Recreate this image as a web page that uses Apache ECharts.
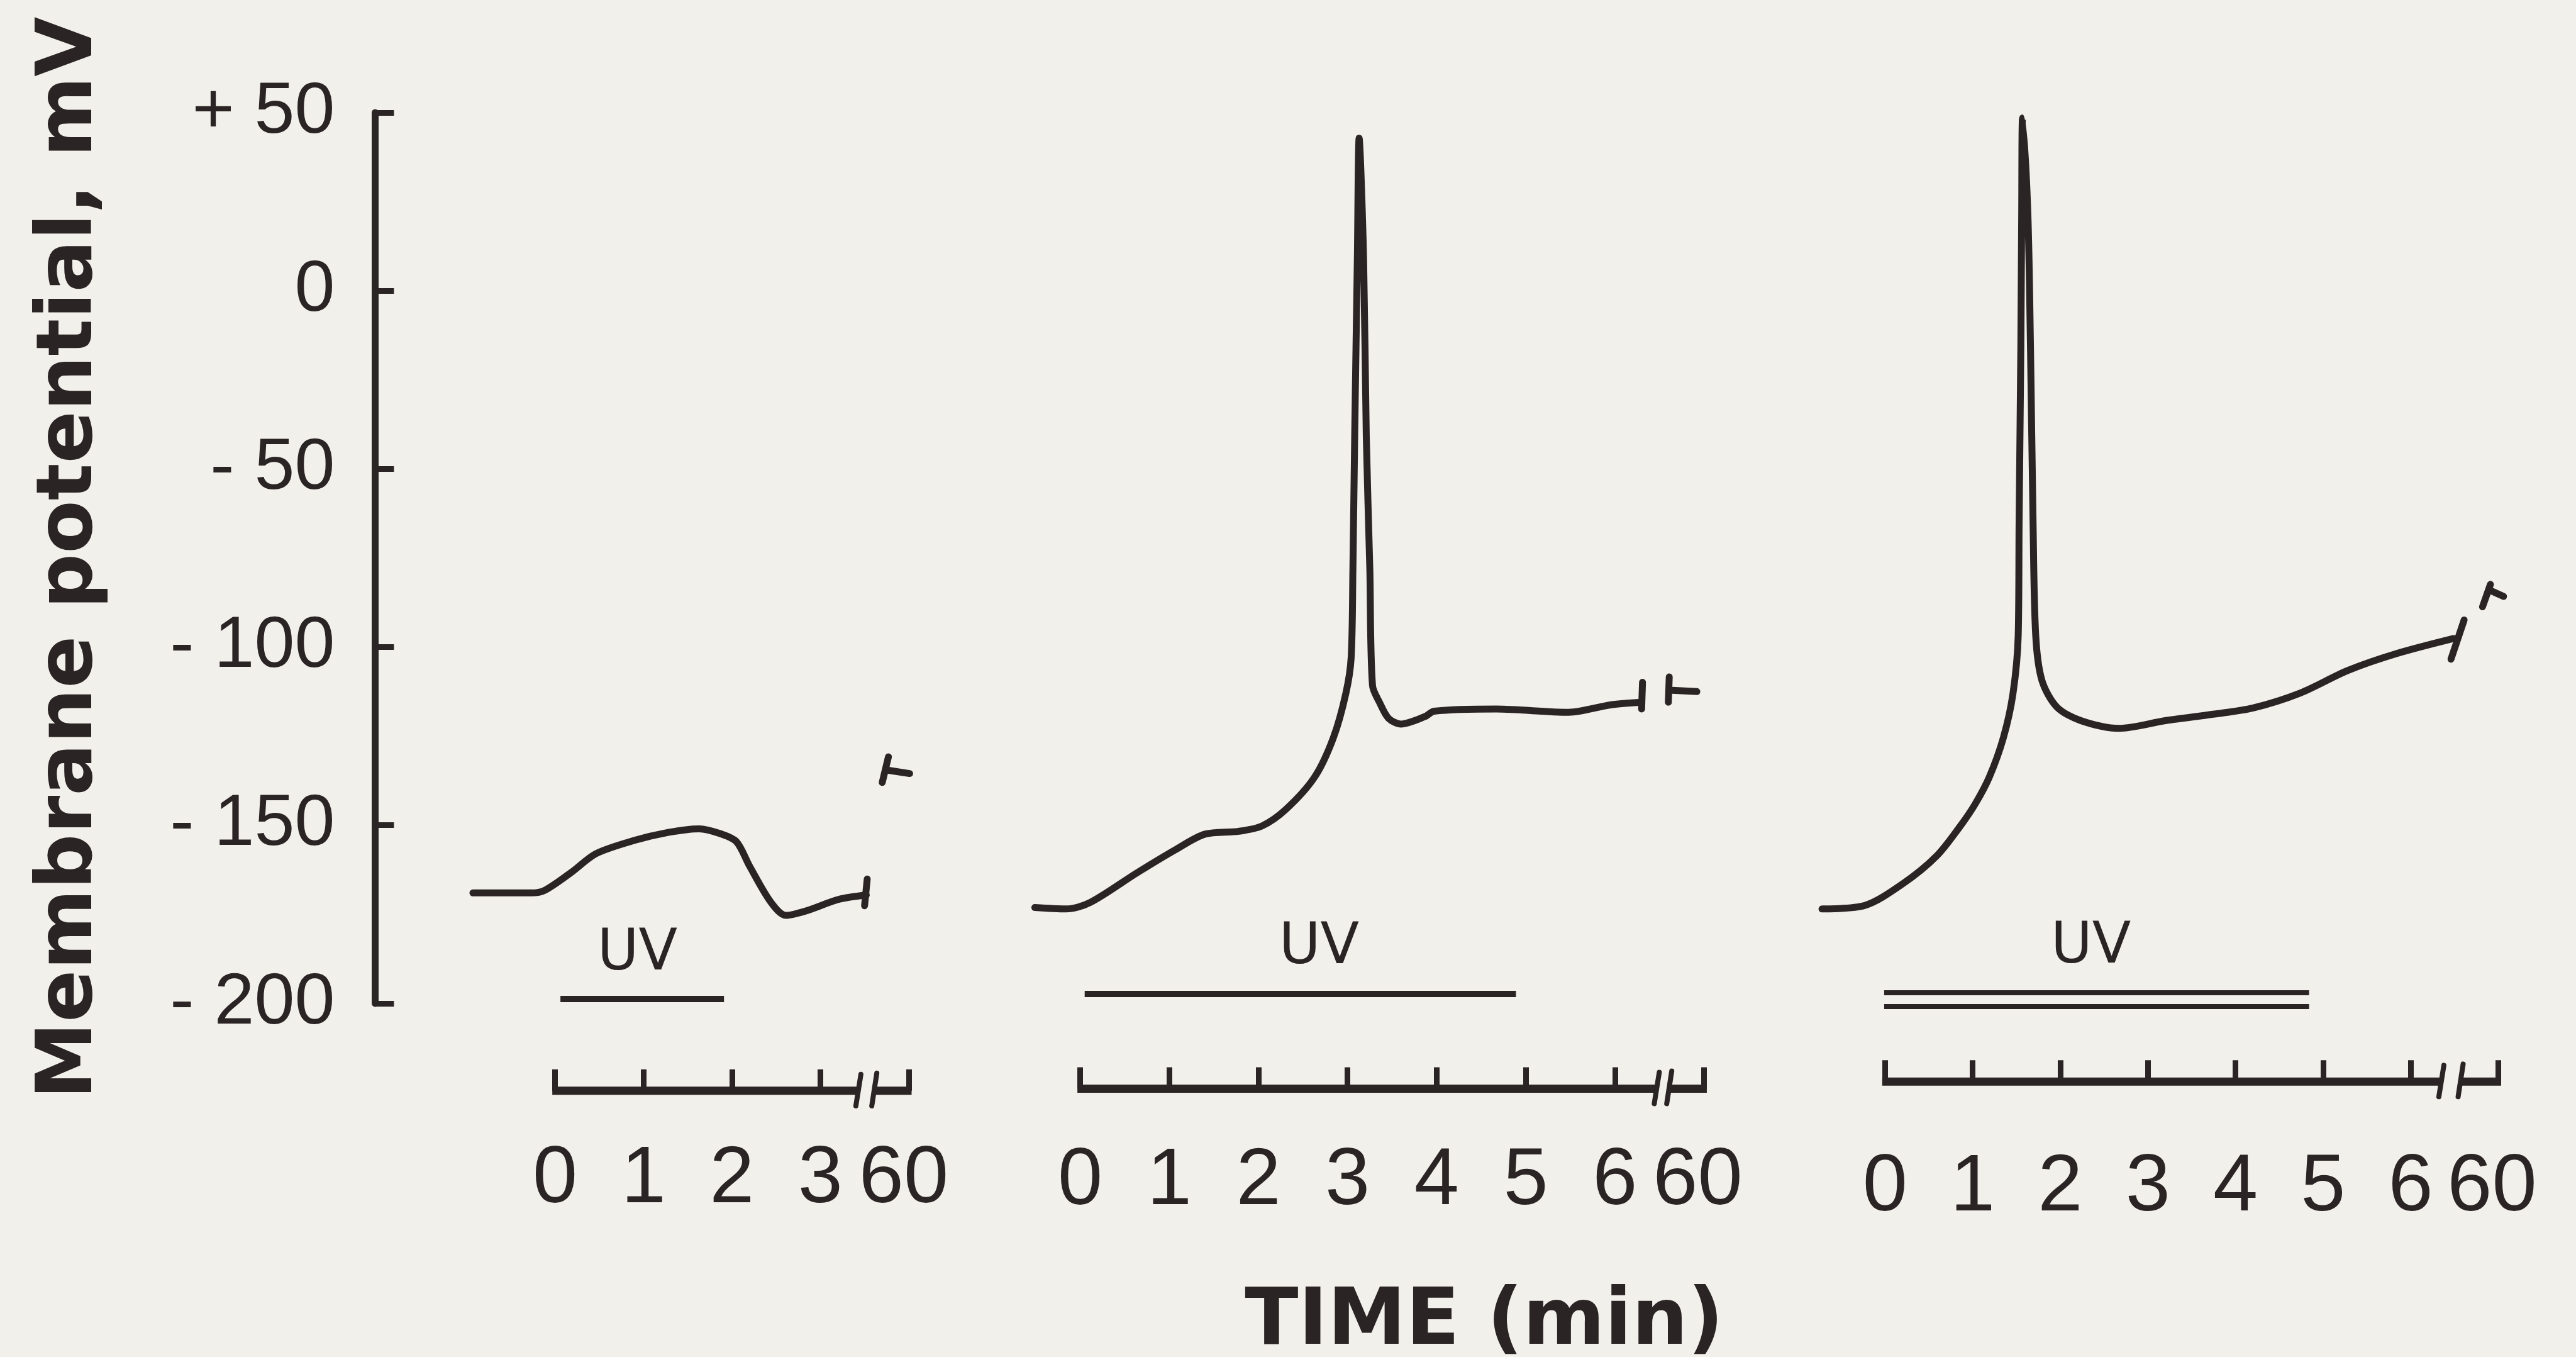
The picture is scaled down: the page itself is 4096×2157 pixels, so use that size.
<!DOCTYPE html>
<html>
<head>
<meta charset="utf-8">
<script src="https://cdn.jsdelivr.net/npm/echarts@6/dist/echarts.min.js"></script>
<style>
  html, body { margin: 0; padding: 0; background: #f2f0eb; }
  #chart { width: 4096px; height: 2157px; }
</style>
</head>
<body>
<div id="chart"></div>
<script>
// ---- Data: membrane potential (mV) vs time (min); "60" is the reading after the axis break ----
const yTickValues = [50, 0, -50, -100, -150, -200];
const yTickLabels = ['+ 50', '0', '- 50', '- 100', '- 150', '- 200'];

const timeLabels1 = ['0', '1', '2', '3', '60'];
const timeLabels2 = ['0', '1', '2', '3', '4', '5', '6', '60'];
const timeLabels3 = ['0', '1', '2', '3', '4', '5', '6', '60'];

// recorded traces, [time, mV]
const trace1 = [[-0.93, -169.0], [-0.27, -169.0], [-0.12, -168.3], [0.19, -163.1], [0.46, -158.0],
  [0.89, -154.3], [1.28, -152.0], [1.63, -151.0], [1.86, -152.3], [2.05, -154.6], [2.20, -161.5],
  [2.44, -171.6], [2.61, -175.3], [2.83, -174.1], [3.21, -170.8], [3.52, -169.6]];
const trace2 = [[-0.51, -173.1], [-0.16, -173.5], [0.11, -171.7], [0.64, -163.3], [1.08, -156.7],
  [1.40, -152.5], [1.78, -151.7], [2.04, -150.2], [2.31, -145.5], [2.63, -136.5], [2.84, -125.5],
  [2.98, -113.1], [3.04, -103.1], [3.06, -78.2], [3.08, -40.7], [3.11, 9.1], [3.13, 42.8],
  [3.18, 9.1], [3.21, -40.7], [3.25, -78.2], [3.28, -110.8], [3.36, -115.6], [3.46, -120.0],
  [3.60, -121.6], [3.87, -119.5], [3.97, -118.0], [4.67, -117.4], [5.48, -118.3], [5.96, -116.2],
  [6.30, -115.5]];
const trace3 = [[-0.72, -173.5], [-0.23, -172.5], [0.21, -166.3], [0.59, -158.6], [0.86, -150.2],
  [1.03, -144.0], [1.19, -136.5], [1.35, -125.5], [1.46, -113.1], [1.52, -96.8], [1.53, -65.7],
  [1.55, -15.7], [1.56, 21.6], [1.57, 48.5], [1.63, 21.6], [1.66, -15.7], [1.69, -65.7],
  [1.72, -96.8], [1.79, -109.3], [1.96, -116.8], [2.23, -120.6], [2.67, -122.8], [3.21, -120.6],
  [3.76, -118.8], [4.20, -117.1], [4.74, -112.9], [5.28, -106.6], [5.83, -101.9], [6.49, -97.6]];

// end-of-record bar and the 60 min reading, as [time, mV] segments
const endMarks1 = [[[3.53, -165.1], [3.50, -172.6]], [[3.77, -130.8], [3.70, -138.0]], [[3.75, -134.5], [4.01, -135.5]]];
const endMarks2 = [[[6.31, -109.9], [6.30, -117.4]], [[6.61, -108.4], [6.60, -115.5]], [[6.61, -112.1], [6.92, -112.5]]];
const endMarks3 = [[[6.61, -92.4], [6.46, -103.4]], [[6.91, -82.4], [6.82, -88.7]], [[6.90, -84.0], [7.06, -85.8]]];

// UV irradiation periods (time span at a mV level); the third run has a double bar
const uvBars1 = [[[0.06, -198.8], [1.91, -198.8]]];
const uvBars2 = [[[0.05, -197.4], [4.89, -197.4]]];
const uvBars3 = [[[-0.01, -197.0], [4.84, -197.0]], [[-0.01, -200.8], [4.84, -200.8]]];
const uvText1 = [0.93, -186.3];
const uvText2 = [2.68, -184.5];
const uvText3 = [2.35, -184.4];

// where each time axis is broken (two slashes)
const axisBreak1 = [3.43, 3.61];
const axisBreak2 = [6.47, 6.61];
const axisBreak3 = [6.35, 6.57];

// ---- Layout and styling ----
const S = 0.852;
const INK = '#2b2424';
const BG = '#f2f0eb';
const Y_MIN = -200, Y_MAX = 50;
const T_MIN = -1;                       // room for the pre-irradiation baseline
const PLOT_TOP = 210 * S, PLOT_BOTTOM = 1872 * S;
const Y_AXIS_X = 700 * S;
const NUM_FONT = "'Liberation Sans', Arial, sans-serif";
const NUM_SIZE = 128;

const panels = [
  { left: 1036, step: 165.0, max: 4, base: 2035, margin: 78, shift60: 16, labels: timeLabels1, trace: trace1, marks: endMarks1, uv: uvBars1, uvW: 10, uvText: uvText1, brk: axisBreak1 },
  { left: 2016, step: 166.3, max: 7, base: 2031, margin: 84, shift60: 20, labels: timeLabels2, trace: trace2, marks: endMarks2, uv: uvBars2, uvW: 10, uvText: uvText2, brk: axisBreak2 },
  { left: 3518, step: 163.5, max: 7, base: 2018, margin: 105, shift60: 20, labels: timeLabels3, trace: trace3, marks: endMarks3, uv: uvBars3, uvW: 8, uvText: uvText3, brk: axisBreak3 }
];

const grid = [], xAxis = [], yAxis = [], series = [];

panels.forEach((p, i) => {
  const offsetPx = (p.base - 1872) * S;
  const tickValues = p.labels.map((_, k) => k);
  const gridLeft = (p.left + T_MIN * p.step) * S;
  grid.push({
    left: gridLeft,
    width: p.step * (p.max - T_MIN) * S,
    top: PLOT_TOP,
    height: PLOT_BOTTOM - PLOT_TOP,
    containLabel: false
  });
  xAxis.push({
    gridIndex: i,
    type: 'value',
    min: T_MIN,
    max: p.max,
    position: 'bottom',
    offset: offsetPx,
    axisLine: { show: false, onZero: false },
    axisTick: { show: true, inside: true, length: 34, customValues: tickValues, lineStyle: { color: INK, width: 9 } },
    splitLine: { show: false },
    axisLabel: {
      show: true,
      customValues: tickValues,
      showMinLabel: true,
      showMaxLabel: true,
      hideOverlap: false,
      margin: p.margin,
      color: INK,
      fontFamily: NUM_FONT,
      fontSize: NUM_SIZE,
      formatter: v => {
        const t = p.labels[Math.round(v)];
        return Math.round(v) === p.max ? '{far|' + t + '}' : t;
      },
      rich: {
        far: { color: INK, fontFamily: NUM_FONT, fontSize: NUM_SIZE, padding: [0, p.shift60, 0, 0] }
      }
    }
  });
  yAxis.push(i === 0 ? {
    gridIndex: 0,
    type: 'value',
    min: Y_MIN,
    max: Y_MAX,
    interval: 50,
    position: 'left',
    offset: gridLeft - Y_AXIS_X,
    axisLine: { show: true, onZero: false, lineStyle: { color: INK, width: 11 } },
    axisTick: { show: true, inside: true, length: 30, lineStyle: { color: INK, width: 9 } },
    splitLine: { show: false },
    axisLabel: {
      margin: 64,
      color: INK,
      fontFamily: "'Liberation Sans', Arial, sans-serif",
      fontSize: 115,
      formatter: v => yTickLabels[yTickValues.indexOf(v)]
    },
    name: 'Membrane potential, mV',
    nameLocation: 'middle',
    nameRotate: 90,
    nameGap: 422,
    nameTextStyle: { color: INK, fontFamily: "'DejaVu Sans', sans-serif", fontWeight: 'bold', fontSize: 123 }
  } : {
    gridIndex: i,
    type: 'value',
    min: Y_MIN,
    max: Y_MAX,
    show: false
  });

  // membrane potential trace
  series.push({
    type: 'line',
    xAxisIndex: i,
    yAxisIndex: i,
    data: p.trace,
    symbol: 'none',
    smooth: 0.3,
    clip: false,
    silent: true,
    lineStyle: { color: INK, width: 11, cap: 'round', join: 'round' }
  });
  // end bar and 60 min reading
  series.push({
    type: 'lines',
    coordinateSystem: 'cartesian2d',
    xAxisIndex: i,
    yAxisIndex: i,
    clip: false,
    silent: true,
    data: p.marks.map(c => ({ coords: c })),
    lineStyle: { color: INK, width: 11, opacity: 1, curveness: 0, cap: 'round' }
  });
  // UV exposure bar(s)
  series.push({
    type: 'lines',
    coordinateSystem: 'cartesian2d',
    xAxisIndex: i,
    yAxisIndex: i,
    clip: false,
    silent: true,
    data: p.uv.map(c => ({ coords: c })),
    lineStyle: { color: INK, width: p.uvW, opacity: 1, curveness: 0, cap: 'butt' }
  });
  // "UV" caption
  series.push({
    type: 'scatter',
    xAxisIndex: i,
    yAxisIndex: i,
    data: [p.uvText],
    symbolSize: 1,
    silent: true,
    clip: false,
    itemStyle: { color: 'rgba(0,0,0,0)', opacity: 1 },
    label: {
      show: true,
      position: 'inside',
      formatter: 'UV',
      color: INK,
      opacity: 1,
      fontFamily: "'DejaVu Sans', sans-serif",
      fontSize: 90
    }
  });
  // time axis baseline with the break slashes before 60 min
  series.push({
    type: 'custom',
    xAxisIndex: i,
    yAxisIndex: i,
    clip: false,
    silent: true,
    data: [p.brk],
    renderItem: (params, api) => {
      const b1 = api.value(0), b2 = api.value(1);
      const p0 = api.coord([0, Y_MIN]);
      const pb1 = api.coord([b1, Y_MIN]);
      const pb2 = api.coord([b2, Y_MIN]);
      const pe = api.coord([p.max, Y_MIN]);
      const y = p0[1] + offsetPx;
      const base = { stroke: INK, lineWidth: 13, lineCap: 'butt' };
      const slash = { stroke: INK, lineWidth: 8, lineCap: 'round' };
      return {
        type: 'group',
        children: [
          { type: 'line', shape: { x1: p0[0] - 4.5, y1: y, x2: pb1[0], y2: y }, style: base },
          { type: 'line', shape: { x1: pb2[0], y1: y, x2: pe[0] + 4.5, y2: y }, style: base },
          { type: 'line', shape: { x1: pb1[0] - 4, y1: y + 24, x2: pb1[0] + 4, y2: y - 26 }, style: slash },
          { type: 'line', shape: { x1: pb2[0] - 4, y1: y + 24, x2: pb2[0] + 4, y2: y - 28 }, style: slash }
        ]
      };
    }
  });
});

const chart = echarts.init(document.getElementById('chart'), null, { renderer: 'canvas' });
chart.setOption({
  backgroundColor: BG,
  animation: false,
  grid,
  xAxis,
  yAxis,
  series,
  graphic: [{
    type: 'text',
    x: 2770 * S,
    y: 2104,
    silent: true,
    style: {
      text: 'TIME (min)',
      fill: INK,
      fontFamily: "'DejaVu Sans', sans-serif",
      fontWeight: 'bold',
      fontSize: 125,
      align: 'center',
      verticalAlign: 'middle'
    }
  }]
});
</script>
</body>
</html>
